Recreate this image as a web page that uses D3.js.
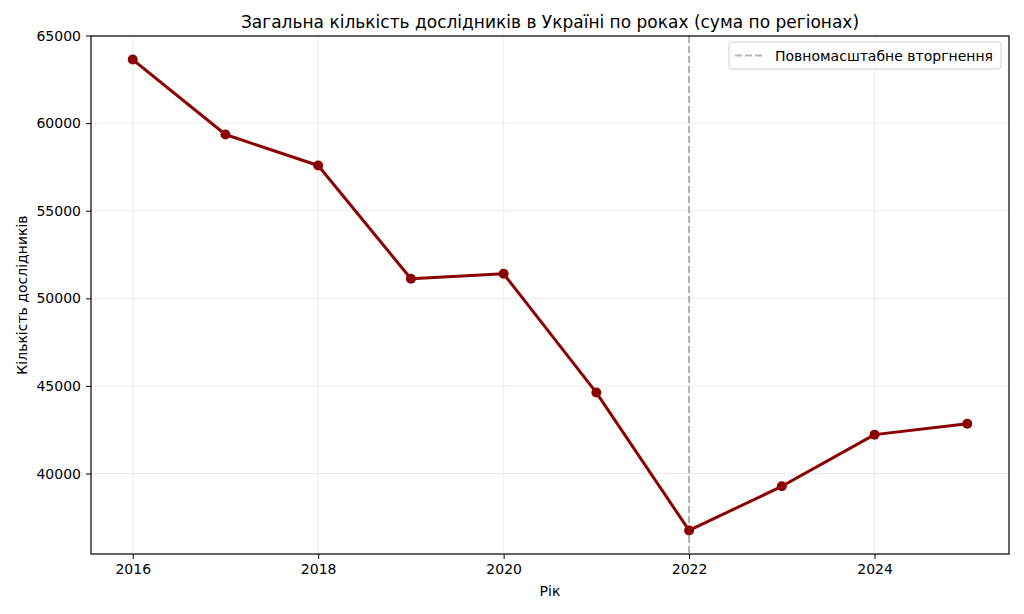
<!DOCTYPE html>
<html>
<head>
<meta charset="utf-8">
<script src="https://cdn.jsdelivr.net/npm/d3@7"></script>
<style>
  body { margin: 0; background: #fff; }
  svg { font-family: "DejaVu Sans", sans-serif; }
</style>
</head>
<body>
<svg width="1024" height="614"></svg>
<script>
const years = [2016, 2017, 2018, 2019, 2020, 2021, 2022, 2023, 2024, 2025];
const researchers = [63630, 59350, 57580, 51120, 51400, 44620, 36750, 39270, 42220, 42840];
const xTicks = [2016, 2018, 2020, 2022, 2024];
const yTicks = [40000, 45000, 50000, 55000, 60000, 65000];
const invasionYear = 2022;
const legendLabel = "Повномасштабне вторгнення";

main();

function main() {
  const canvas = d3.select("svg");
  const left = 91;
  const right = 1009;
  const top = 36;
  const bottom = 554;

  const xPad = (d3.max(years) - d3.min(years)) * 0.05;
  const xScale = d3
    .scaleLinear()
    .domain([d3.min(years) - xPad, d3.max(years) + xPad])
    .range([left, right]);

  const yMin = d3.min(researchers);
  const yMax = d3.max(researchers);
  const yPad = (yMax - yMin) * 0.05;
  const yScale = d3
    .scaleLinear()
    .domain([yMin - yPad, yMax + yPad])
    .range([bottom, top]);

  // grid
  const grid = canvas.append("g");
  grid
    .selectAll("line.gx")
    .data(xTicks)
    .join("line")
    .attr("x1", (d) => xScale(d))
    .attr("x2", (d) => xScale(d))
    .attr("y1", top)
    .attr("y2", bottom)
    .attr("stroke", "#b0b0b0")
    .attr("stroke-opacity", 0.3)
    .attr("stroke-width", 0.8);
  grid
    .selectAll("line.gy")
    .data(yTicks)
    .join("line")
    .attr("x1", left)
    .attr("x2", right)
    .attr("y1", (d) => yScale(d))
    .attr("y2", (d) => yScale(d))
    .attr("stroke", "#b0b0b0")
    .attr("stroke-opacity", 0.3)
    .attr("stroke-width", 0.8);

  // invasion line
  canvas
    .append("line")
    .attr("x1", xScale(invasionYear))
    .attr("x2", xScale(invasionYear))
    .attr("y1", top)
    .attr("y2", bottom)
    .attr("stroke", "#a0a0a0")
    .attr("stroke-opacity", 0.8)
    .attr("stroke-width", 2)
    .attr("stroke-dasharray", "7,3");

  // series
  const line = d3
    .line()
    .x((d, i) => xScale(years[i]))
    .y((d) => yScale(d));
  canvas
    .append("path")
    .datum(researchers)
    .attr("d", line)
    .attr("fill", "none")
    .attr("stroke", "#8b0000")
    .attr("stroke-width", 3)
    .attr("stroke-linejoin", "round");
  canvas
    .append("g")
    .selectAll("circle")
    .data(researchers)
    .join("circle")
    .attr("cx", (d, i) => xScale(years[i]))
    .attr("cy", (d) => yScale(d))
    .attr("r", 5)
    .attr("fill", "#8b0000");

  // axes
  const xAxis = d3.axisBottom(xScale).tickValues(xTicks).tickFormat(d3.format("d")).tickSize(5).tickPadding(5);
  const yAxis = d3.axisLeft(yScale).tickValues(yTicks).tickFormat(d3.format("d")).tickSize(5).tickPadding(5);
  const gx = canvas.append("g").attr("transform", `translate(0, ${bottom})`).call(xAxis);
  const gy = canvas.append("g").attr("transform", `translate(${left}, 0)`).call(yAxis);
  [gx, gy].forEach((g) => {
    g.select(".domain").remove();
    g.selectAll("line").attr("stroke", "#000").attr("stroke-width", 1);
    g.selectAll("text").attr("fill", "#000").style("font-size", "14px").style("font-family", "DejaVu Sans");
  });

  // frame
  canvas
    .append("rect")
    .attr("x", left)
    .attr("y", top)
    .attr("width", right - left)
    .attr("height", bottom - top)
    .attr("fill", "none")
    .attr("stroke", "#000")
    .attr("stroke-width", 1.2);

  // title and labels
  canvas
    .append("text")
    .text("Загальна кількість дослідників в Україні по роках (сума по регіонах)")
    .attr("x", (left + right) / 2)
    .attr("y", 28)
    .attr("text-anchor", "middle")
    .style("font-size", "17px");
  canvas
    .append("text")
    .text("Рік")
    .attr("x", (left + right) / 2)
    .attr("y", 596)
    .attr("text-anchor", "middle")
    .style("font-size", "14px");
  canvas
    .append("text")
    .text("Кількість дослідників")
    .attr("text-anchor", "middle")
    .attr("transform", `translate(27, ${(top + bottom) / 2}) rotate(-90)`)
    .style("font-size", "14px");

  // legend
  const lg = canvas.append("g").attr("transform", "translate(729, 42)");
  lg.append("rect")
    .attr("width", 272)
    .attr("height", 27)
    .attr("rx", 3)
    .attr("fill", "#fff")
    .attr("fill-opacity", 0.8)
    .attr("stroke", "#d0d0d0");
  lg.append("line")
    .attr("x1", 6)
    .attr("x2", 34)
    .attr("y1", 13.5)
    .attr("y2", 13.5)
    .attr("stroke", "#a0a0a0")
    .attr("stroke-opacity", 0.8)
    .attr("stroke-width", 2)
    .attr("stroke-dasharray", "7,3");
  lg.append("text")
    .text(legendLabel)
    .attr("x", 46)
    .attr("y", 18.5)
    .style("font-size", "14px");
}
</script>
</body>
</html>
